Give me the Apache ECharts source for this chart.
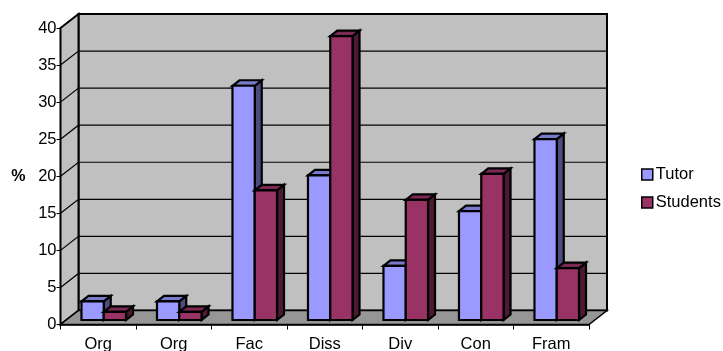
<!DOCTYPE html>
<html>
<head>
<meta charset="utf-8">
<style>html,body{margin:0;padding:0;background:#fff}#chart{width:723px;height:351px}</style>
<script src="https://cdn.jsdelivr.net/npm/echarts@6/dist/echarts.min.js"></script>
</head>
<body>
<div id="chart"></div>
<script>
const categories = ['Org', 'Org', 'Fac', 'Diss', 'Div', 'Con', 'Fram'];
const tutor = [2.5, 2.5, 31.6, 19.5, 7.3, 14.7, 24.4];
const students = [1.1, 1.1, 17.5, 38.3, 16.2, 19.7, 7.0];
const yTicks = [0, 5, 10, 15, 20, 25, 30, 35, 40];

// Depth of the 3D box and of each column, in pixels
const WALL_DX = 18, WALL_DY = 14;
const BAR_DX = 7, BAR_DY = 5.5;
const BAR_OFFSET_X = 5.5, BAR_OFFSET_Y = 4.5;
const BAR_BAND = 0.295;
const INK = '#000';

function poly(points, fill, lineWidth) {
  return { type: 'polygon', shape: { points: points },
    style: { fill: fill, stroke: INK, lineWidth: lineWidth, lineJoin: 'miter' } };
}

function renderWalls(params) {
  const c = params.coordSys;
  const l = c.x, r = c.x + c.width, t = c.y, b = c.y + c.height;
  const d = WALL_DX, h = WALL_DY;
  return { type: 'group', children: [
    poly([[l + d, t - h], [r + d, t - h], [r + d, b - h], [l + d, b - h]], '#C0C0C0', 2),
    poly([[l, t], [l + d, t - h], [l + d, b - h], [l, b]], '#C0C0C0', 2),
    poly([[l, b], [l + d, b - h], [r + d, b - h], [r, b]], '#969696', 1.5)
  ] };
}

function renderGridline(params, api) {
  const c = params.coordSys;
  const y = api.coord([0, api.value(1)])[1];
  const l = c.x, r = c.x + c.width;
  const style = { stroke: INK, lineWidth: 1.2, fill: null };
  return { type: 'group', children: [
    { type: 'polyline', shape: { points: [[l, y], [l + WALL_DX, y - WALL_DY], [r + WALL_DX, y - WALL_DY]] }, style: style }
  ] };
}

function barRenderer(slot, front, top, side) {
  return function (params, api) {
    const band = api.size([1, 0])[0];
    const w = band * BAR_BAND;
    const base = api.coord([api.value(0), 0]);
    const head = api.coord([api.value(0), api.value(1)]);
    const x0 = base[0] - w + slot * w + BAR_OFFSET_X;
    const x1 = x0 + w;
    const y0 = base[1] - BAR_OFFSET_Y;
    const y1 = head[1] - BAR_OFFSET_Y;
    return { type: 'group', children: [
      poly([[x1, y1], [x1 + BAR_DX, y1 - BAR_DY], [x1 + BAR_DX, y0 - BAR_DY], [x1, y0]], side, 2.2),
      poly([[x0, y1], [x0 + BAR_DX, y1 - BAR_DY], [x1 + BAR_DX, y1 - BAR_DY], [x1, y1]], top, 2.2),
      poly([[x0, y0], [x0, y1], [x1, y1], [x1, y0]], front, 2.2)
    ] };
  };
}

function barSeries(name, values, slot, front, top, side) {
  return {
    name: name, type: 'custom', coordinateSystem: 'cartesian2d', clip: false,
    itemStyle: { color: front },
    encode: { x: 0, y: 1 },
    data: values.map((v, i) => [i, v]),
    renderItem: barRenderer(slot, front, top, side)
  };
}

const chart = echarts.init(document.getElementById('chart'), null, { renderer: 'canvas' });
const labelFont = { fontFamily: 'Liberation Sans', fontSize: 16.5, color: '#000' };

chart.setOption({
  animation: false,
  backgroundColor: '#fff',
  grid: { left: 60.5, top: 28, width: 528.5, height: 296.5, outerBoundsMode: 'none' },
  legend: {
    orient: 'vertical', left: 636, top: 161, itemWidth: 11, itemHeight: 11, itemGap: 11,
    icon: 'rect', data: [
      { name: 'Tutor', itemStyle: { color: '#9999FF', borderColor: INK, borderWidth: 1.5 } },
      { name: 'Students', itemStyle: { color: '#993366', borderColor: INK, borderWidth: 1.5 } }
    ],
    textStyle: Object.assign({ padding: [0, 0, 0, -2] }, labelFont)
  },
  xAxis: {
    type: 'category', data: categories,
    axisLine: { show: true, lineStyle: { color: INK, width: 1.5 } },
    axisTick: { show: true, length: 5, lineStyle: { color: INK, width: 1 } },
    axisLabel: Object.assign({ margin: 11 }, labelFont),
    splitLine: { show: false }
  },
  yAxis: {
    type: 'value', min: 0, max: 40, interval: 5,
    name: '%', nameLocation: 'middle', nameGap: 35, nameRotate: 0,
    nameTextStyle: { fontFamily: 'Liberation Sans', fontSize: 16, fontWeight: 'bold', color: '#000' },
    axisLine: { show: true, lineStyle: { color: INK, width: 2 } },
    axisTick: { show: true, length: 4, lineStyle: { color: INK, width: 1 } },
    axisLabel: Object.assign({ margin: 4, padding: [2, 0, 0, 0] }, labelFont),
    splitLine: { show: false }
  },
  series: [
    { name: 'walls', type: 'custom', coordinateSystem: 'cartesian2d', clip: false, silent: true,
      data: [[0, 0]], renderItem: renderWalls, z: 1 },
    { name: 'gridlines', type: 'custom', coordinateSystem: 'cartesian2d', clip: false, silent: true,
      encode: { x: 0, y: 1 }, data: yTicks.slice(1, -1).map(v => [0, v]), renderItem: renderGridline, z: 1 },
    Object.assign(barSeries('Tutor', tutor, 0, '#9999FF', '#7A7ACC', '#4C4C80'), { z: 2 }),
    Object.assign(barSeries('Students', students, 1, '#993366', '#7A2952', '#4D1A33'), { z: 3 })
  ]
});
</script>
</body>
</html>
